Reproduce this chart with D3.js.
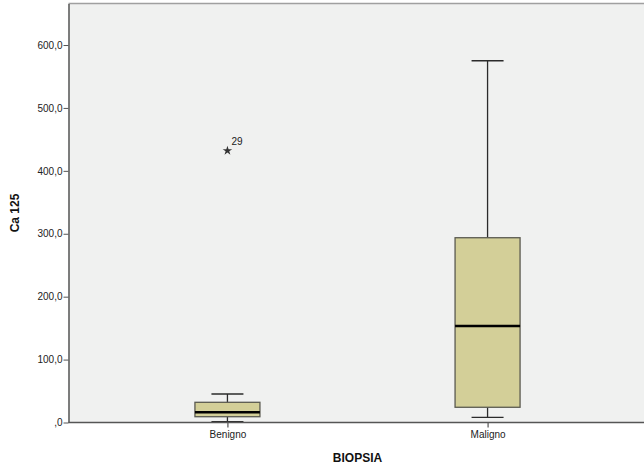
<!DOCTYPE html>
<html>
<head>
<meta charset="utf-8">
<script src="https://cdn.jsdelivr.net/npm/d3@7"></script>
<style>
  html, body { margin: 0; padding: 0; background: #fff; overflow: hidden; }
  svg { display: block; font-family: Arial, "Liberation Sans", sans-serif; }
</style>
</head>
<body>
<div id="chart"></div>
<script>
// Ca 125 by biopsy result: box plot summaries
const categories = ["Benigno", "Maligno"];
const whiskerLow  = [1.3, 8.3];
const q1          = [9.2, 24.2];
const median      = [16.2, 153.4];
const q3          = [32.1, 293.7];
const whiskerHigh = [45.3, 575.0];
// extreme values: [category, value, case label]
const extremes = [["Benigno", 432.0, "29"]];
const yTicks = [0, 100, 200, 300, 400, 500, 600];

const W = 644, H = 467;
const plot = { left: 68.5, right: 646.5, top: 3.5, bottom: 422.5 };

const svg = d3.select("#chart").append("svg")
  .attr("width", W).attr("height", H);

const x = d3.scalePoint().domain(categories)
  .range([plot.left, plot.right]).padding(0.611);
const y = d3.scaleLinear().domain([0, 666]).range([plot.bottom, plot.top]);

const fmt = v => (v === 0 ? "" : d3.format("d")(v)) + ",0";

// plot background (clipped at the page edge)
svg.append("rect")
  .attr("x", plot.left).attr("y", plot.top)
  .attr("width", W - plot.left).attr("height", plot.bottom - plot.top)
  .attr("fill", "#f0f1f0");

// top frame line
svg.append("line")
  .attr("x1", plot.left).attr("x2", W)
  .attr("y1", plot.top).attr("y2", plot.top)
  .attr("stroke", "#a0a0a0").attr("stroke-width", 1.6);

const boxW = 65, capW = 32;
const data = categories.map((c, i) => ({
  c, lo: whiskerLow[i], q1: q1[i], med: median[i], q3: q3[i], hi: whiskerHigh[i]
}));

const g = svg.append("g");
data.forEach(d => {
  const cx = x(d.c);
  // whiskers
  g.append("line").attr("x1", cx).attr("x2", cx)
    .attr("y1", y(d.q3)).attr("y2", y(d.hi))
    .attr("stroke", "#2b2b2b").attr("stroke-width", 1.3);
  g.append("line").attr("x1", cx).attr("x2", cx)
    .attr("y1", y(d.q1)).attr("y2", y(d.lo))
    .attr("stroke", "#2b2b2b").attr("stroke-width", 1.3);
  // caps
  [d.hi, d.lo].forEach(v => {
    g.append("line").attr("x1", cx - capW / 2).attr("x2", cx + capW / 2)
      .attr("y1", y(v)).attr("y2", y(v))
      .attr("stroke", "#2b2b2b").attr("stroke-width", 1.3);
  });
  // box
  g.append("rect")
    .attr("x", cx - boxW / 2).attr("y", y(d.q3))
    .attr("width", boxW).attr("height", y(d.q1) - y(d.q3))
    .attr("fill", "#d3cf98").attr("stroke", "#5a5a50").attr("stroke-width", 1.3);
  // median
  g.append("line").attr("x1", cx - boxW / 2).attr("x2", cx + boxW / 2)
    .attr("y1", y(d.med)).attr("y2", y(d.med))
    .attr("stroke", "#000").attr("stroke-width", 2.4);
});

// extreme value markers
const star = d3.symbol().type(d3.symbolStar).size(28);
extremes.forEach(([c, v, lab]) => {
  svg.append("path").attr("d", star())
    .attr("transform", `translate(${x(c)},${y(v)})`)
    .attr("fill", "#333");
  svg.append("text").attr("x", x(c) + 4).attr("y", y(v) - 6)
    .attr("font-size", 10).attr("fill", "#222").text(lab);
});

// y axis
const yAxis = svg.append("g")
  .attr("transform", `translate(${plot.left},0)`)
  .call(d3.axisLeft(y).tickValues(yTicks).tickFormat(fmt)
    .tickSize(5).tickSizeOuter(0).tickPadding(1));
yAxis.select(".domain").attr("stroke", "#555").attr("stroke-width", 1.5);
yAxis.selectAll(".tick line").attr("stroke", "#555");
yAxis.selectAll(".tick text").attr("font-size", 10).attr("fill", "#222")
  .attr("font-family", "Arial, 'Liberation Sans', sans-serif");

// x axis
const xAxis = svg.append("g")
  .attr("transform", `translate(0,${plot.bottom})`)
  .call(d3.axisBottom(x).tickSize(5).tickSizeOuter(0).tickPadding(3));
xAxis.select(".domain").remove();
svg.append("line")
  .attr("x1", plot.left).attr("x2", W)
  .attr("y1", plot.bottom).attr("y2", plot.bottom)
  .attr("stroke", "#555").attr("stroke-width", 1.5);
xAxis.selectAll(".tick line").attr("stroke", "#333");
xAxis.selectAll(".tick text").attr("font-size", 10).attr("fill", "#222")
  .attr("font-family", "Arial, 'Liberation Sans', sans-serif");

// axis titles
svg.append("text")
  .attr("x", (plot.left + plot.right) / 2).attr("y", 462)
  .attr("text-anchor", "middle").attr("font-size", 12).attr("font-weight", "bold")
  .attr("fill", "#111").text("BIOPSIA");
svg.append("text")
  .attr("transform", `translate(19,${(plot.top + plot.bottom) / 2}) rotate(-90)`)
  .attr("text-anchor", "middle").attr("font-size", 12).attr("font-weight", "bold")
  .attr("fill", "#111").text("Ca 125");
</script>
</body>
</html>
